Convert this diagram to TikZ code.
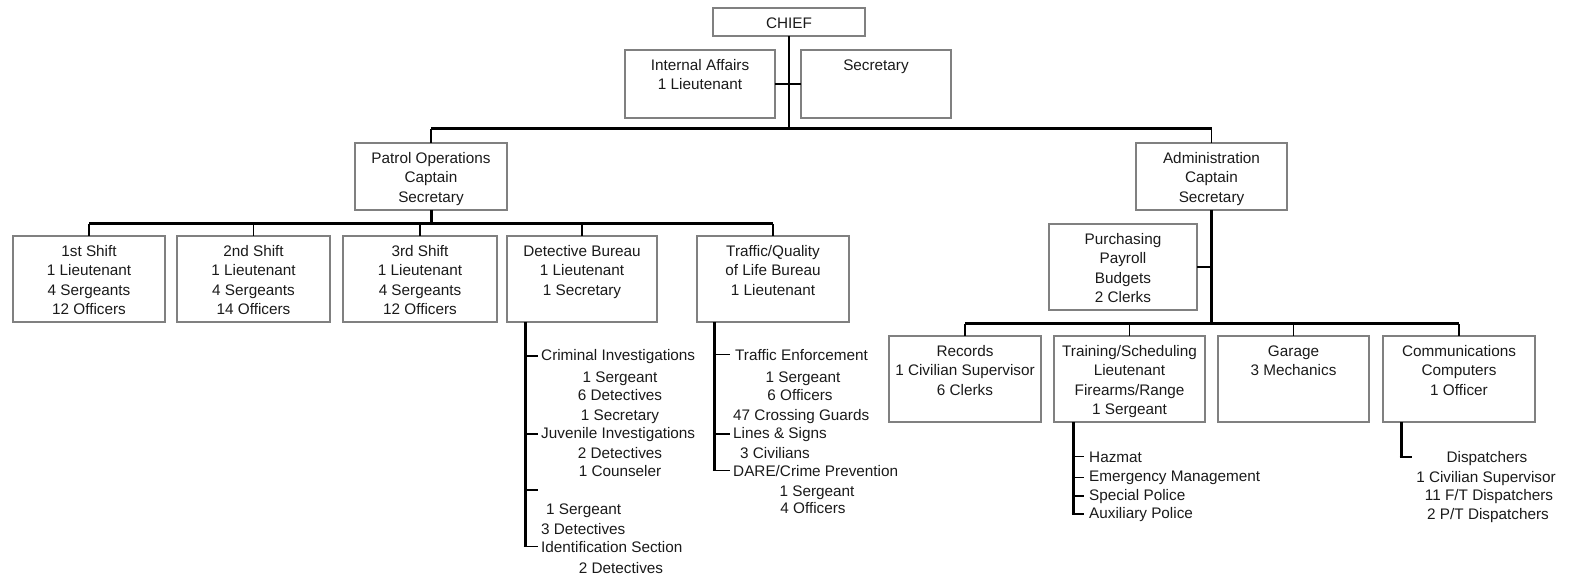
\documentclass[tikz,border=0pt]{standalone}
\usepackage{fontspec}
\setmainfont{Liberation Sans}
\definecolor{boxgray}{HTML}{808080}
\definecolor{txt}{HTML}{1A1A1A}
\newcommand\fs{\fontsize{15.3}{19.2}\selectfont}
\tikzset{
 box/.style={draw=boxgray, line width=2.4pt, inner sep=0pt, outer sep=0pt},
 btext/.style={inner sep=0pt, align=center, font=\fs, text=txt},
 ltext/.style={inner sep=0pt, font=\fs, text=txt},
 bus/.style={line width=3pt, draw=black},
 med/.style={line width=2pt, draw=black},
 stub/.style={line width=1.2pt, draw=black},
}
\newcommand\obox[6]{%
 \node[box, minimum width={#4-#2}, minimum height={#5-#3}] (#1) at ({(#2+#4)/2},{(#3+#5)/2}) {};
 \node[btext, anchor=north] (#1t) at ([yshift=-9.5pt]#1.north) {#6};}
\newcommand\lt[5]{\node[ltext, anchor=#2] (#1) at (#3,{#4+5}) {#5};}
\begin{document}
\begin{tikzpicture}[x=1pt,y=-1pt]
\useasboundingbox (0,0) rectangle (1569,577);
% boxes
\obox{chief}{713}{8}{865}{36}{CHIEF}
\obox{ia}{625}{50}{775}{118}{Internal Affairs\\1 Lieutenant}
\obox{sec}{801}{50}{951}{118}{Secretary}
\obox{patrol}{355}{143}{507}{210}{Patrol Operations\\Captain\\Secretary}
\obox{admin}{1136}{143}{1287}{210}{Administration\\Captain\\Secretary}
\obox{purch}{1049}{224}{1197}{310}{Purchasing\\Payroll\\Budgets\\2 Clerks}
\obox{s1}{13}{236}{165}{322}{1st Shift\\1 Lieutenant\\4 Sergeants\\12 Officers}
\obox{s2}{177}{236}{330}{322}{2nd Shift\\1 Lieutenant\\4 Sergeants\\14 Officers}
\obox{s3}{343}{236}{497}{322}{3rd Shift\\1 Lieutenant\\4 Sergeants\\12 Officers}
\obox{det}{507}{236}{657}{322}{Detective Bureau\\1 Lieutenant\\1 Secretary}
\obox{traffic}{697}{236}{849}{322}{Traffic/Quality\\of Life Bureau\\1 Lieutenant}
\obox{rec}{889}{336}{1041}{422}{Records\\1 Civilian Supervisor\\6 Clerks}
\obox{trn}{1054}{336}{1205}{422}{Training/Scheduling\\Lieutenant\\Firearms/Range\\1 Sergeant}
\obox{gar}{1218}{336}{1369}{422}{Garage\\3 Mechanics}
\obox{com}{1383}{336}{1535}{422}{Communications\\Computers\\1 Officer}
% helper coordinates
\coordinate (ym) at (0,129);
\coordinate (yp) at (0,224);
\coordinate (ya) at (0,324);
\coordinate (dx) at (525,0);
\coordinate (tx) at (714,0);
\coordinate (gx) at (1073,0);
\coordinate (cc) at (1401,457);
\coordinate (ce) at (1412,457);
\coordinate (dblank) at (538,490);
% top connectors
\draw[med] (chief.south) -- (chief.south |- ym);
\draw[med] (ia.east) -- (ia.east -| chief.south);
\draw[stub] (sec.west) -- (sec.west -| chief.south);
\draw[bus] (patrol.north |- ym) -- (admin.north |- ym);
\draw[stub] (patrol.north |- ym) -- (patrol.north);
\draw[stub] (admin.north |- ym) -- (admin.north);
% patrol
\draw[bus] (patrol.south) -- (patrol.south |- yp);
\draw[bus] (s1.north |- yp) -- (traffic.north |- yp);
\foreach \n in {s1,s2,s3,det,traffic}{\draw[stub] (\n.north |- yp) -- (\n.north);}
% admin
\draw[bus] (admin.south) -- (admin.south |- ya);
\draw[med] (purch.east) -- (purch.east -| admin.south);
\draw[bus] (rec.north |- ya) -- (com.north |- ya);
\foreach \n in {rec,trn,gar,com}{\draw[stub] (\n.north |- ya) -- (\n.north);}
% detective list
\lt{d1}{base west}{541}{355}{Criminal Investigations}
\lt{d2}{base}{620}{377}{1 Sergeant}
\lt{d3}{base}{620}{395}{6 Detectives}
\lt{d4}{base}{620}{415}{1 Secretary}
\lt{d5}{base west}{541}{433}{Juvenile Investigations}
\lt{d6}{base}{620}{453}{2 Detectives}
\lt{d7}{base}{620}{471}{1 Counseler}
\lt{d8}{base west}{546}{509}{1 Sergeant}
\lt{d9}{base west}{541}{529}{3 Detectives}
\lt{d10}{base west}{541}{547}{Identification Section}
\lt{d11}{base}{621}{568}{2 Detectives}
\draw[bus] (det.south -| dx) -- (d10.west -| dx);
\draw[stub] (d1.west -| dx) -- ([xshift=-3pt]d1.west);
\draw[stub] (d5.west -| dx) -- ([xshift=-3pt]d5.west);
\draw[stub] (dblank -| dx) -- (dblank);
\draw[stub] ([xshift=-1.5pt]d10.west -| dx) -- ([xshift=-3pt]d10.west);
% traffic list
\lt{t1}{base west}{735}{355}{Traffic Enforcement}
\lt{t2}{base}{803}{377}{1 Sergeant}
\lt{t3}{base}{800}{395}{6 Officers}
\lt{t4}{base west}{733}{415}{47 Crossing Guards}
\lt{t5}{base west}{733}{433}{Lines \& Signs}
\lt{t6}{base west}{740}{453}{3 Civilians}
\lt{t7}{base west}{733}{471}{DARE/Crime Prevention}
\lt{t8}{base}{817}{491}{1 Sergeant}
\lt{t9}{base}{813}{508}{4 Officers}
\draw[bus] (traffic.south -| tx) -- (t7.west -| tx);
\draw[stub] (t1.west -| tx) -- ([xshift=-5pt]t1.west);
\draw[stub] (t5.west -| tx) -- ([xshift=-3pt]t5.west);
\draw[stub] ([xshift=-1.5pt]t7.west -| tx) -- ([xshift=-3pt]t7.west);
% training list
\lt{g1}{base west}{1089}{457}{Hazmat}
\lt{g2}{base west}{1089}{476}{Emergency Management}
\lt{g3}{base west}{1089}{495}{Special Police}
\lt{g4}{base west}{1089}{513}{Auxiliary Police}
\draw[bus] (trn.south -| gx) -- (g4.west -| gx);
\foreach \n in {g1,g2,g3}{\draw[stub] (\n.west -| gx) -- ([xshift=-5pt]\n.west);}
\draw[stub] ([xshift=-1.5pt]g4.west -| gx) -- ([xshift=-5pt]g4.west);
% communications list
\lt{c1}{base}{1487}{457}{Dispatchers}
\lt{c2}{base}{1486}{477}{1 Civilian Supervisor}
\lt{c3}{base}{1489}{495}{11 F/T Dispatchers}
\lt{c4}{base}{1488}{514}{2 P/T Dispatchers}
\draw[bus] (com.south -| cc) -- (cc);
\draw[stub] ([xshift=-1.5pt]cc) -- (ce);
\end{tikzpicture}
\end{document}
